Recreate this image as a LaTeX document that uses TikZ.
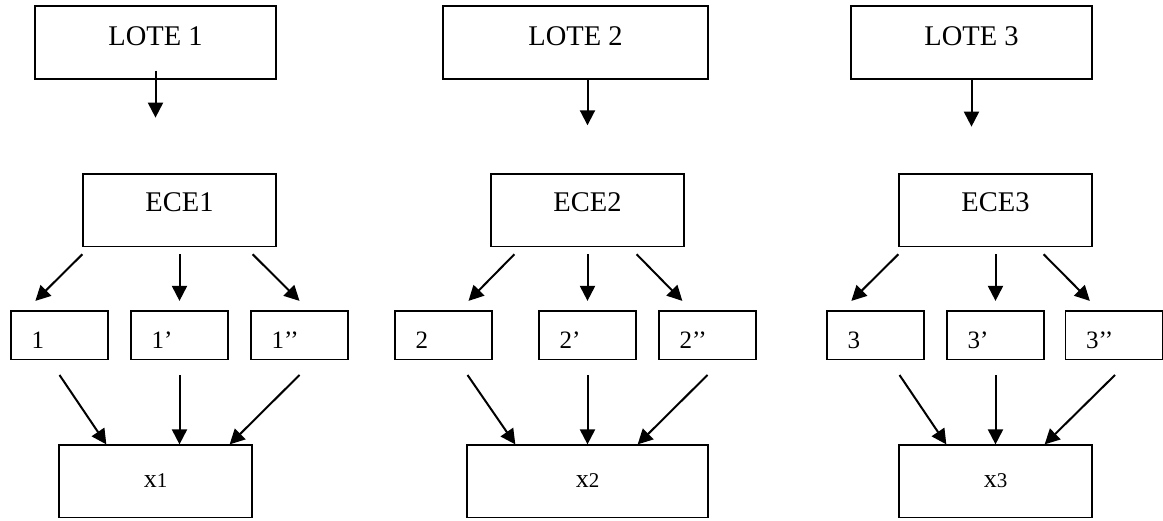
\documentclass[tikz,border=0pt]{standalone}
\usepackage{fontspec}
\setmainfont{Liberation Serif}[Ligatures=TeXOff]
\usetikzlibrary{arrows.meta,calc}
\newcommand\lotefont{\fontsize{28.5}{34}\selectfont}
\newcommand\numfont{\fontsize{25}{30}\selectfont}
\newcommand\xfont{\fontsize{26}{30}\selectfont}
\newcommand\subfont{\fontsize{21}{24}\selectfont}
\tikzset{
  every picture/.style={line join=miter, >={Triangle[length=15pt,width=15pt]}},
  box/.style={draw, line width=1.3pt, inner sep=0pt},
  lotebox/.style={box, font=\lotefont, minimum width=241pt, minimum height=73pt, text height=20pt, text depth=13pt},
  ecebox/.style={box, font=\lotefont, minimum width=193pt, minimum height=72.7pt, text height=20pt, text depth=16.7pt},
  numbox/.style={box, font=\numfont, text width=56pt, inner xsep=20.5pt, align=left, minimum height=48.3pt, text height=25.7pt, text depth=0pt},
  xbox/.style={box, font=\xfont, minimum width=193pt, minimum height=72.3pt, text height=12.3pt, text depth=0pt},
  arr/.style={->, line width=2pt},
}

\begin{document}
\begin{tikzpicture}[x=1pt,y=-1pt]
\useasboundingbox (0,0) rectangle (1163,521);
% lotes
\node[lotebox] (lote1) at (155.5,42.5) {LOTE 1};
\node[lotebox,minimum width=265pt] (lote2) at (575.5,42.5) {LOTE 2};
\node[lotebox] (lote3) at (971.5,42.5) {LOTE 3};
% ECE
\node[ecebox] (ece1) at (179.5,210.3) {ECE1};
\node[ecebox] (ece2) at (587.5,210.3) {ECE2};
\node[ecebox] (ece3) at (995.5,210.3) {ECE3};
% muestras
\node[numbox] (b1)  at (59.5,335.2)  {1};
\node[numbox] (b1a) at (179.5,335.2) {1’};
\node[numbox] (b1b) at (299.5,335.2) {1’’};
\node[numbox] (b2)  at (443.5,335.2) {2};
\node[numbox] (b2a) at (587.5,335.2) {2’};
\node[numbox] (b2b) at (707.5,335.2) {2’’};
\node[numbox] (b3)  at (875.5,335.2) {3};
\node[numbox] (b3a) at (995.5,335.2) {3’};
\node[numbox] (b3b) at (1114,335.2)  {3’’};
% resultados
\node[xbox] (x1) at (155.5,481.2) {x{\subfont 1}};
\node[xbox,minimum width=241pt] (x2) at (587.5,481.2) {x{\subfont 2}};
\node[xbox] (x3) at (995.5,481.2) {x{\subfont 3}};
% grupo 1
\draw[arr] ($(lote1.south)+(0,-9)$) -- ($(lote1.south)+(0,38)$);
\draw[arr] ($(ece1.south west)+(0,7)$) -- ($(b1.north west)+(25,-9.5)$);
\draw[arr] ($(ece1.south)+(0,7)$) -- ($(b1a.north)+(0,-9.5)$);
\draw[arr] ($(ece1.south east)+(-24,7)$) -- ($(b1b.north)+(0,-9.5)$);
\draw[arr] ($(b1.south)+(0,15)$) -- ($(x1.north west)+(48,0)$);
\draw[arr] ($(b1a.south)+(0,15)$) -- (b1a.south |- x1.north);
\draw[arr] ($(b1b.south)+(0,15)$) -- ($(x1.north east)+(-23,0)$);
% grupo 2
\draw[arr] (lote2.south -| ece2.north) -- ($(ece2.north)+(0,-48)$);
\draw[arr] ($(ece2.south west)+(24,7)$) -- ($(b2.north)+(25,-9.5)$);
\draw[arr] ($(ece2.south)+(0,7)$) -- ($(b2a.north)+(0,-9.5)$);
\draw[arr] ($(ece2.south east)+(-48,7)$) -- ($(b2b.north west)+(24,-9.5)$);
\draw[arr] ($(b2.south)+(24,15)$) -- ($(x2.north west)+(49,0)$);
\draw[arr] ($(b2a.south)+(0,15)$) -- (b2a.south |- x2.north);
\draw[arr] ($(b2b.south)+(0,15)$) -- ($(x2.north east)+(-71,0)$);
% grupo 3
\draw[arr] (lote3.south) -- ($(lote3.south)+(0,47)$);
\draw[arr] ($(ece3.south west)+(0,7)$) -- ($(b3.north west)+(25,-9.5)$);
\draw[arr] ($(ece3.south)+(0,7)$) -- ($(b3a.north)+(0,-9.5)$);
\draw[arr] ($(ece3.south east)+(-49,7)$) -- ($(b3b.north west)+(25,-9.5)$);
\draw[arr] ($(b3.south)+(24,15)$) -- ($(x3.north west)+(48,0)$);
\draw[arr] ($(b3a.south)+(0,15)$) -- (b3a.south |- x3.north);
\draw[arr] ($(b3b.south)+(1,15)$) -- ($(x3.north east)+(-48,0)$);
\end{tikzpicture}
\end{document}
